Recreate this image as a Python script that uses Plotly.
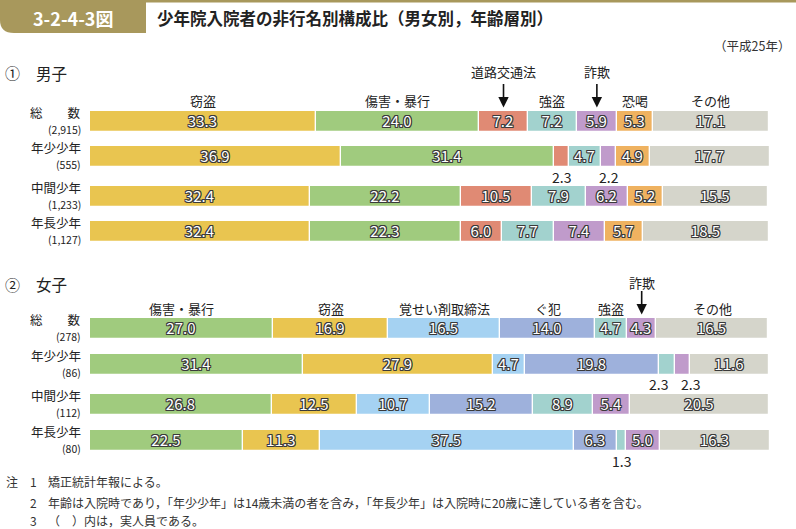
import plotly.graph_objects as go

# ---------------- data ----------------
male_categories = ['窃盗', '傷害・暴行', '道路交通法', '強盗', '詐欺', '恐喝', 'その他']
female_categories = ['傷害・暴行', '窃盗', '覚せい剤取締法', 'ぐ犯', '強盗', '詐欺', 'その他']
row_names = ['総　　数', '年少少年', '中間少年', '年長少年']
male_counts = ['(2,915)', '(555)', '(1,233)', '(1,127)']
female_counts = ['(278)', '(86)', '(112)', '(80)']

male_setto = [33.3, 36.9, 32.4, 32.4]
male_shogai = [24.0, 31.4, 22.2, 22.3]
male_doro = [7.2, 2.3, 10.5, 6.0]
male_goto = [7.2, 4.7, 7.9, 7.7]
male_sagi = [5.9, 2.2, 6.2, 7.4]
male_kakatsu = [5.3, 4.9, 5.2, 5.7]
male_other = [17.1, 17.7, 15.5, 18.5]

female_shogai = [27.0, 31.4, 26.8, 22.5]
female_setto = [16.9, 27.9, 12.5, 11.3]
female_kakusei = [16.5, 4.7, 10.7, 37.5]
female_guhan = [14.0, 19.8, 15.2, 6.3]
female_goto = [4.7, 2.3, 8.9, 1.3]
female_sagi = [4.3, 2.3, 5.4, 5.0]
female_other = [16.5, 11.6, 20.5, 16.3]

male_series = [male_setto, male_shogai, male_doro, male_goto, male_sagi, male_kakatsu, male_other]
female_series = [female_shogai, female_setto, female_kakusei, female_guhan, female_goto, female_sagi, female_other]

# ---------------- styles / layout ----------------
W, H = 796, 529
X0, X1 = 90, 769
XMAX = 101.0
FONT = 'Noto Sans CJK JP'
COLORS = {
    '窃盗': '#e9c550',
    '傷害・暴行': '#a0cb7e',
    '道路交通法': '#e08a74',
    '強盗': '#a2d2ce',
    '詐欺': '#c09bcb',
    '恐喝': '#efb260',
    'その他': '#d5d5cb',
    '覚せい剤取締法': '#a5d2f2',
    'ぐ犯': '#9eb1dc',
}
MALE_Y = [121, 156.5, 196.5, 231.5]
FEMALE_Y = [328, 364, 404, 440]
BAR_H = 21
SMALL = 3.0
ARROW_CATS = {'male': ['道路交通法', '詐欺'], 'female': ['詐欺']}
_o = '#3a3a3a'
SHADOW = ', '.join(f'{dx}px {dy}px 0 {_o}' for dx, dy in
                   [(-1, -1), (1, -1), (-1, 1), (1, 1), (0, 1), (0, -1), (1, 0), (-1, 0)])


def xpx(v):
    return X0 + v / 100.0 * (X1 - X0)


def txt(x, y, text, size, color='#222', xanchor='center', **kw):
    d = dict(x=x / W, y=1 - y / H, xref='paper', yref='paper', xanchor=xanchor, yanchor='middle',
             text=text, showarrow=False, font=dict(family=FONT, size=size, color=color))
    d.update(kw)
    return d


fig = go.Figure()
annotations = []
shapes = []


def add_section(cats, series, ys, counts, key, header_y, arrow_label_y):
    cum = [0.0] * len(ys)
    centers = {}
    for cat, vals in zip(cats, series):
        texts = [f'{v:.1f}' if v >= SMALL else '' for v in vals]
        fig.add_trace(go.Bar(
            orientation='h', y=ys, x=vals, base=cum[:], width=BAR_H, name=cat,
            marker=dict(color=COLORS[cat], line=dict(color='white', width=1.2)),
            text=texts, textposition='inside', insidetextanchor='middle',
            textangle=0, constraintext='none',
            textfont=dict(family=FONT, size=15, color='white', shadow=SHADOW),
            hoverinfo='skip', showlegend=False, cliponaxis=False,
        ))
        centers[cat] = [c + v / 2 for c, v in zip(cum, vals)]
        cum = [c + v for c, v in zip(cum, vals)]
    # headers
    for cat in cats:
        cx = xpx(centers[cat][0])
        if cat in ARROW_CATS[key]:
            annotations.append(txt(cx, arrow_label_y, cat, 13))
            annotations.append(dict(x=cx / W, y=1 - (ys[0] - BAR_H / 2 - 3) / H, xref='paper', yref='paper',
                                    ax=0, ay=-25, text='', showarrow=True, arrowhead=2, arrowsize=1.3,
                                    arrowwidth=1.6, arrowcolor='#111'))
        else:
            annotations.append(txt(cx, header_y, cat, 13))
    # row labels
    for name, cnt, y in zip(row_names, counts, ys):
        annotations.append(txt(83, y - 9, name, 12.5, xanchor='right'))
        annotations.append(txt(83, y + 8, cnt, 10.5, xanchor='right'))
    # small values below bars
    for ri, y in enumerate(ys):
        smalls = [(xpx(centers[cat][ri]), vals[ri]) for cat, vals in zip(cats, series) if vals[ri] < SMALL]
        shifts = [0] * len(smalls)
        for i in range(len(smalls) - 1):
            gap = smalls[i + 1][0] - smalls[i][0]
            if gap < 32:
                d = (32 - gap) / 2
                shifts[i] -= d
                shifts[i + 1] += d
        for (px, v), s in zip(smalls, shifts):
            annotations.append(txt(px + s, y + 20.5, f'{v:.1f}', 14))


add_section(male_categories, male_series, MALE_Y, male_counts, 'male', 100, 72)
add_section(female_categories, female_series, FEMALE_Y, female_counts, 'female', 308, 282)

# title bar
GOLD = '#a8985c'
shapes.append(dict(type='path', xref='paper', yref='paper', layer='below',
                   path=f'M 0 {1 - 0/H} L {146/W} {1 - 0/H} L {146/W} {1 - 33/H} L {14/W} {1 - 33/H} '
                        f'Q 0 {1 - 33/H} 0 {1 - 20/H} Z',
                   fillcolor=GOLD, line=dict(width=0)))
shapes.append(dict(type='line', xref='paper', yref='paper', x0=146 / W, x1=1, y0=1 - 1.2 / H, y1=1 - 1.2 / H,
                   line=dict(color=GOLD, width=2.5)))
annotations.append(txt(73, 18, '<b>3-2-4-3図</b>', 18, color='white'))
annotations.append(txt(155, 18, '<b>少年院入院者の非行名別構成比（男女別，年齢層別）</b>', 16.5, xanchor='left'))
annotations.append(txt(792, 46, '（平成25年）', 12.5, color='#333', xanchor='right'))
annotations.append(txt(3, 73, '①', 15, xanchor='left'))
annotations.append(txt(34, 73, '男子', 15.5, xanchor='left'))
annotations.append(txt(3, 284, '②', 15, xanchor='left'))
annotations.append(txt(34, 284, '女子', 15.5, xanchor='left'))

note_marks = ['注', '', '']
note_nums = ['1', '2', '3']
note_texts = ['矯正統計年報による。',
              '年齢は入院時であり，「年少少年」は14歳未満の者を含み，「年長少年」は入院時に20歳に達している者を含む。',
              '（　）内は，実人員である。']
for m, n, t, y in zip(note_marks, note_nums, note_texts, [481, 502, 520]):
    if m:
        annotations.append(txt(4, y, m, 12, color='#333', xanchor='left'))
    annotations.append(txt(33, y, n, 12, color='#333'))
    annotations.append(txt(46, y, t, 12, color='#333', xanchor='left'))

fig.update_layout(
    width=W, height=H, margin=dict(l=0, r=0, t=0, b=0, pad=0),
    paper_bgcolor='white', plot_bgcolor='white',
    barmode='overlay', bargap=0,
    xaxis=dict(domain=[X0 / W, xpx(XMAX) / W], range=[0, XMAX], visible=False, fixedrange=True),
    yaxis=dict(domain=[0, 1], range=[H, 0], visible=False, fixedrange=True),
    annotations=annotations, shapes=shapes,
)

fig.write_html('out.html', config={'displayModeBar': False},
               post_script="document.body.style.margin='0';document.body.style.padding='0';")
